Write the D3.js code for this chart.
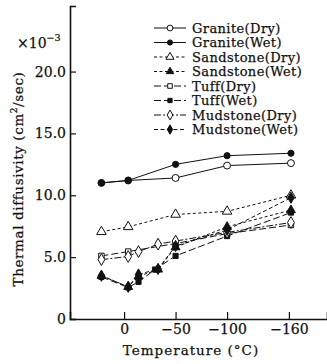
<!DOCTYPE html>
<html>
<head>
<meta charset="utf-8">
<script src="https://cdn.jsdelivr.net/npm/d3@7"></script>
<style>
  body { margin: 0; background: #fff; }
  svg text { font-family: "DejaVu Serif", serif; fill: #111; stroke: #111; stroke-width: 0.25px; }
</style>
</head>
<body>
<svg id="chart" width="327" height="364"></svg>
<script>
// temperature (°C) and thermal diffusivity (x10^-3 cm2/sec)
const graniteDry   = [[22, 11.0], [-4, 11.2], [-50, 11.4], [-100, 12.4], [-162, 12.6]];
const graniteWet   = [[22, 11.0], [-4, 11.2], [-50, 12.5], [-100, 13.2], [-162, 13.4]];
const sandstoneDry = [[22, 7.05], [-4, 7.45], [-50, 8.45], [-100, 8.7], [-162, 10.0]];
const sandstoneWet = [[22, 3.5], [-4, 2.6], [-14, 3.45], [-33, 4.0], [-50, 5.8], [-100, 7.45], [-162, 8.8]];
const tuffDry      = [[22, 5.1], [-4, 5.45], [-50, 6.1], [-100, 6.9], [-162, 7.6]];
const tuffWet      = [[22, 3.4], [-4, 2.55], [-14, 3.0], [-30, 4.0], [-50, 5.1], [-100, 6.7], [-162, 8.6]];
const mudstoneDry  = [[22, 4.8], [-4, 5.05], [-14, 5.45], [-33, 6.05], [-50, 6.3], [-100, 7.0], [-162, 7.8]];
const mudstoneWet  = [[22, 3.5], [-4, 2.6], [-14, 3.6], [-33, 4.05], [-50, 5.9], [-100, 7.2], [-162, 9.8]];

const seriesNames = ["Granite(Dry)", "Granite(Wet)", "Sandstone(Dry)", "Sandstone(Wet)",
                     "Tuff(Dry)", "Tuff(Wet)", "Mudstone(Dry)", "Mudstone(Wet)"];
const seriesData = [graniteDry, graniteWet, sandstoneDry, sandstoneWet,
                    tuffDry, tuffWet, mudstoneDry, mudstoneWet];

const xTicks = [0, -50, -100, -160];
const yTicks = [0, 5, 10, 15, 20];

// look of each series (line dash, marker shape, filled or not)
const styles = [
    { dash: null,      shape: d3.symbolCircle,   size: 38, fill: false },
    { dash: null,      shape: d3.symbolCircle,   size: 30, fill: true },
    { dash: "3,2.5",   shape: d3.symbolTriangle, size: 40, fill: false },
    { dash: "3,2.5",   shape: d3.symbolTriangle, size: 34, fill: true },
    { dash: "7,3",     shape: d3.symbolSquare,   size: 30, fill: false },
    { dash: "7,3",     shape: d3.symbolSquare,   size: 26, fill: true },
    { dash: "7,2,2,2", shape: d3.symbolDiamond,  size: 40, fill: false },
    { dash: "4,2.5",   shape: d3.symbolDiamond,  size: 36, fill: true }
];

const svg = d3.select("#chart");

const x = d3.scaleLinear().domain([52.5, -197]).range([70, 327]);
const y = d3.scaleLinear().domain([0, 25.3]).range([319, 6]);

// axes
const yAxis = d3.axisLeft(y)
    .tickValues(yTicks)
    .tickSize(-6)
    .tickPadding(4)
    .tickFormat(d => d === 0 ? "0" : d3.format(".1f")(d));

const xAxis = d3.axisBottom(x)
    .tickValues(xTicks)
    .tickSize(-7)
    .tickPadding(5)
    .tickFormat(d => d === 0 ? "0" : "\u2212" + Math.abs(d));

const gy = svg.append("g").attr("transform", "translate(70,0)").call(yAxis);
const gx = svg.append("g").attr("transform", "translate(0,319)").call(xAxis);

[gx, gy].forEach(g => {
    g.select(".domain").attr("stroke", "#111").attr("stroke-width", 1.6);
    g.selectAll(".tick line").attr("stroke", "#111").attr("stroke-width", 1.2);
    g.selectAll(".tick text").attr("font-size", 14).attr("fill", "#111")
        .style("font-family", "DejaVu Serif");
});

// axis titles
svg.append("text")
    .attr("x", 191).attr("y", 355)
    .attr("text-anchor", "middle")
    .attr("font-size", 13.5)
    .attr("letter-spacing", 1)
    .text("Temperature (\u00B0C)");

const yt = svg.append("text")
    .attr("transform", "translate(23,179) rotate(-90)")
    .attr("text-anchor", "middle")
    .attr("font-size", 13.5)
    .attr("letter-spacing", 0.6);
yt.append("tspan").text("Thermal diffusivity (cm");
yt.append("tspan").attr("font-size", 9).attr("dy", -6).text("2");
yt.append("tspan").attr("dy", 6).text("/sec)");

const mult = svg.append("text").attr("x", 17).attr("y", 48).attr("font-size", 14);
mult.append("tspan").text("\u00D710");
mult.append("tspan").attr("font-size", 9.5).attr("dy", -7).text("\u22123");

// lines and markers
const line = d3.line().x(d => x(d[0])).y(d => y(d[1]));

seriesData.forEach((data, i) => {
    const st = styles[i];
    svg.append("path")
        .datum(data)
        .attr("d", line)
        .attr("fill", "none")
        .attr("stroke", "#111")
        .attr("stroke-width", 1)
        .attr("stroke-dasharray", st.dash);

    svg.selectAll(".m" + i)
        .data(data)
        .enter()
        .append("path")
        .attr("class", "m" + i)
        .attr("transform", d => `translate(${x(d[0])},${y(d[1])})`)
        .attr("d", d3.symbol().type(st.shape).size(st.size))
        .attr("fill", st.fill ? "#111" : "#fff")
        .attr("stroke", "#111")
        .attr("stroke-width", 1);
});

// legend
const legend = svg.append("g");
seriesNames.forEach((name, i) => {
    const st = styles[i];
    const ly = 28 + i * 14.5;
    legend.append("line")
        .attr("x1", 154).attr("x2", 186)
        .attr("y1", ly).attr("y2", ly)
        .attr("stroke", "#111")
        .attr("stroke-width", 1)
        .attr("stroke-dasharray", st.dash);
    legend.append("path")
        .attr("transform", `translate(170,${ly})`)
        .attr("d", d3.symbol().type(st.shape).size(st.size * 0.7))
        .attr("fill", st.fill ? "#111" : "#fff")
        .attr("stroke", "#111")
        .attr("stroke-width", 1);
    legend.append("text")
        .attr("x", 192).attr("y", ly)
        .attr("dy", "0.35em")
        .attr("font-size", 13)
        .attr("letter-spacing", 0.4)
        .text(name);
});
</script>
</body>
</html>
